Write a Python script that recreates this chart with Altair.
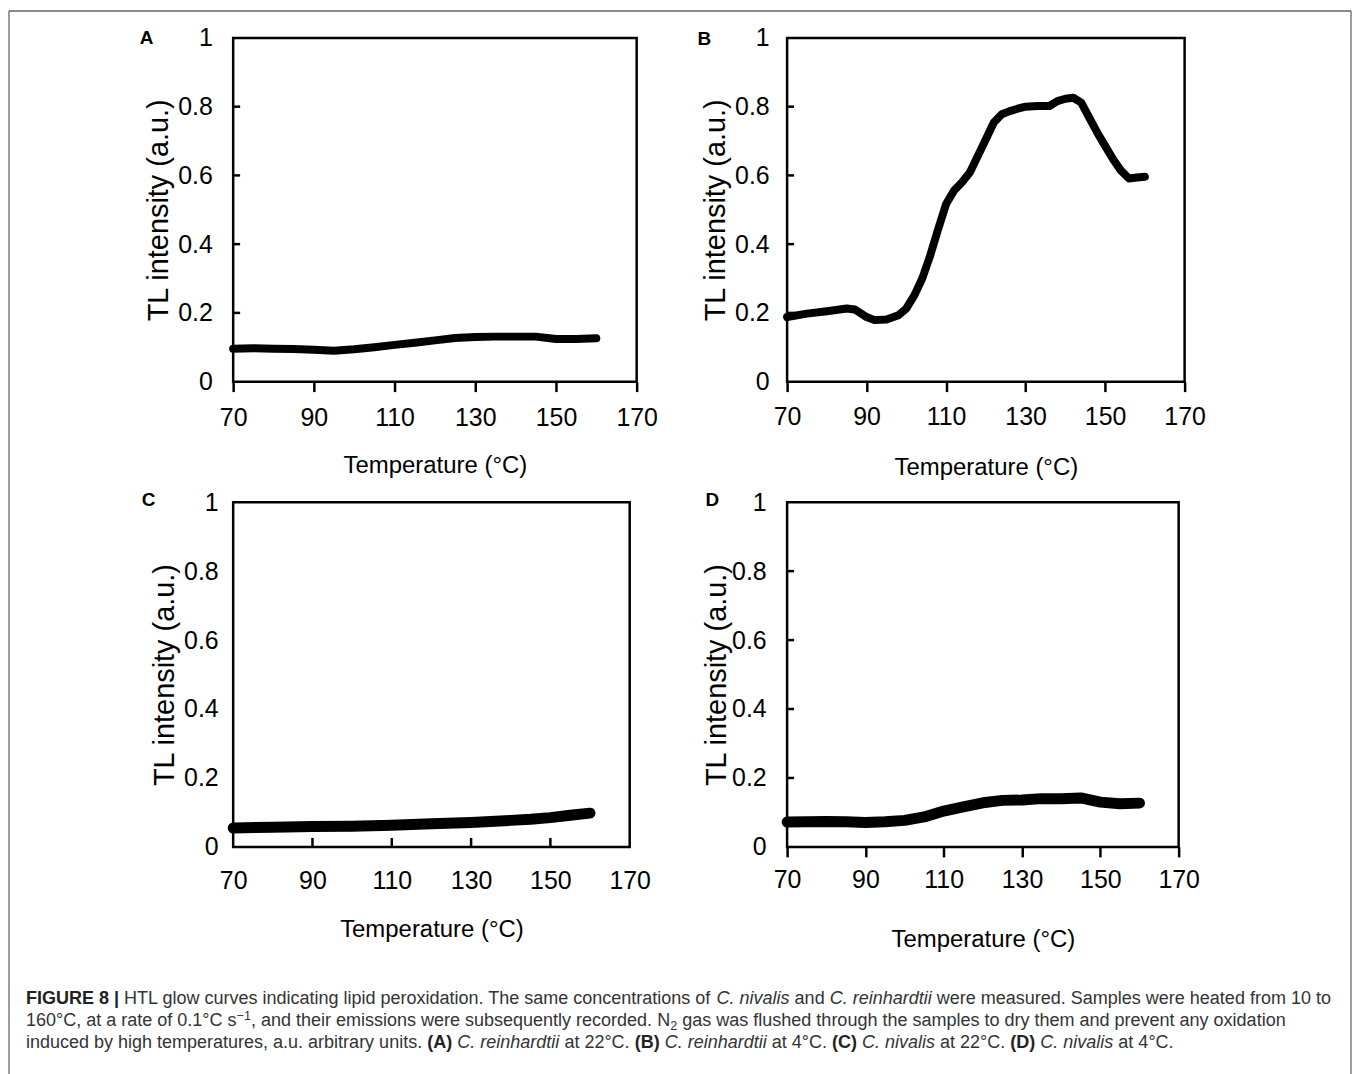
import altair as alt
import pandas as pd

# ---------------- data ----------------
temps_A = [70, 75, 80, 85, 90, 95, 100, 105, 110, 115, 120, 125, 130, 135, 140, 145, 150, 155, 160]
tl_A = [0.096, 0.097, 0.096, 0.095, 0.093, 0.090, 0.094, 0.100, 0.107, 0.113, 0.120, 0.127,
        0.130, 0.131, 0.131, 0.131, 0.124, 0.124, 0.126]

temps_B = [70, 75, 80, 85, 87, 90, 92, 95, 98, 100, 102, 104, 106, 108, 110, 112, 114, 116, 118,
           120, 122, 124, 126, 128, 130, 133, 136, 138, 140, 142, 144, 146, 148, 150, 152, 154,
           156, 158, 160]
tl_B = [0.188, 0.198, 0.205, 0.213, 0.210, 0.188, 0.179, 0.181, 0.193, 0.213, 0.251, 0.300,
        0.367, 0.444, 0.517, 0.556, 0.580, 0.609, 0.657, 0.705, 0.754, 0.778, 0.787, 0.794,
        0.800, 0.802, 0.802, 0.816, 0.823, 0.826, 0.812, 0.768, 0.725, 0.686, 0.647, 0.614,
        0.591, 0.594, 0.596]

temps_C = [70, 80, 90, 100, 110, 120, 130, 140, 145, 150, 155, 160]
tl_C = [0.055, 0.057, 0.059, 0.060, 0.063, 0.067, 0.071, 0.077, 0.080, 0.085, 0.092, 0.098]

temps_D = [70, 75, 80, 85, 90, 95, 100, 105, 110, 115, 120, 125, 130, 135, 140, 145, 150, 155, 160]
tl_D = [0.072, 0.073, 0.074, 0.073, 0.071, 0.073, 0.077, 0.087, 0.104, 0.116, 0.128, 0.135,
        0.136, 0.140, 0.140, 0.142, 0.130, 0.125, 0.127]

x_tick_values = [70, 90, 110, 130, 150, 170]
y_tick_values = [0, 0.2, 0.4, 0.6, 0.8, 1]
inner_y_ticks = [0.2, 0.4, 0.6, 0.8]
inner_x_ticks = [90, 110, 130, 150]
x_title = "Temperature (°C)"
y_title = "TL intensity (a.u.)"

caption_lines = [
    [("b", "FIGURE 8 |"),
     ("r", " HTL glow curves indicating lipid peroxidation. The same concentrations of "),
     ("i", "C. nivalis"), ("r", " and "), ("i", "C. reinhardtii"),
     ("r", " were measured. Samples were heated from 10 to")],
    [("r", "160°C, at a rate of 0.1°C s"), ("sup", "−1"),
     ("r", ", and their emissions were subsequently recorded. N"), ("sub", "2"),
     ("r", " gas was flushed through the samples to dry them and prevent any oxidation")],
    [("r", "induced by high temperatures, a.u. arbitrary units. "), ("b", "(A)"), ("r", " "),
     ("i", "C. reinhardtii"), ("r", " at 22°C. "), ("b", "(B)"), ("r", " "),
     ("i", "C. reinhardtii"), ("r", " at 4°C. "), ("b", "(C)"), ("r", " "),
     ("i", "C. nivalis"), ("r", " at 22°C. "), ("b", "(D)"), ("r", " "),
     ("i", "C. nivalis"), ("r", " at 4°C.")],
]

SANS = "Liberation Sans, Arial, sans-serif"
TICK_FS = 25
XTITLE_FS = 24
YTITLE_FS = 29

# ---------------- text metrics (Arial / Liberation Sans advance widths, 1/1000 em) -----
W_REG = {}
W_BOLD = {}


def _set(tbl, chars, w):
    for ch in chars:
        tbl[ch] = w


_set(W_REG, " !,./:;I[]ft", 278)
_set(W_REG, "ijl", 222)
_set(W_REG, "()-r", 333)
_set(W_REG, "ckszvxyJ", 500)
_set(W_REG, "0123456789abdeghnopquL", 556)
_set(W_REG, "+<=>−", 584)
_set(W_REG, "FTZ", 611)
_set(W_REG, "ABEKPSVXY", 667)
_set(W_REG, "CDHNRUw", 722)
_set(W_REG, "GOQ", 778)
_set(W_REG, "Mm", 833)
_set(W_REG, "W", 944)
_set(W_REG, "°", 400)
_set(W_REG, "|", 260)

_set(W_BOLD, " I", 278)
_set(W_BOLD, "|", 280)
_set(W_BOLD, "()", 333)
_set(W_BOLD, "0123456789", 556)
_set(W_BOLD, "F", 611)
_set(W_BOLD, "E", 667)
_set(W_BOLD, "ABCDRU", 722)
_set(W_BOLD, "G", 778)


def em_width(text, style):
    tbl = W_BOLD if style == "b" else W_REG
    scale = 0.7 if style in ("sup", "sub") else 1.0
    return sum(tbl.get(ch, 556) for ch in text) * scale / 1000.0


# caption geometry (relative to the caption cell)
CAP_X0 = -208
CAP_LINE1_WIDTH = 1310
CAP_BASELINES = [37, 59, 81]
cap_fs = CAP_LINE1_WIDTH / sum(em_width(t, s) for s, t in caption_lines[0])

rows = []
for li, line in enumerate(caption_lines):
    x = CAP_X0
    for style, txt in line:
        space_w = em_width(" ", "r") * cap_fs
        core = txt.strip(" ")
        if not core:
            x += len(txt) * space_w
            continue
        lead = len(txt) - len(txt.lstrip(" "))
        trail = len(txt) - len(txt.rstrip(" "))
        x += lead * space_w
        y = CAP_BASELINES[li]
        if style == "sup":
            y -= 0.36 * cap_fs
        elif style == "sub":
            y += 0.2 * cap_fs
        rows.append({"x": x, "y": y, "t": core, "s": style})
        x += em_width(core, style) * cap_fs + trail * space_w
cap_df = pd.DataFrame(rows)


# ---------------- panels ----------------
def panel(temps, vals, letter, w, h, sw, xt_in, yt_in, letter_xy,
          ylab_pad, ytitle_x, xlab_pad, xtitle_y):
    df = pd.DataFrame({"T": temps, "TL": vals})
    xscale = alt.Scale(domain=[70, 170], nice=False, zero=False)
    yscale = alt.Scale(domain=[0, 1], nice=False, zero=True)
    xaxis = alt.Axis(values=x_tick_values, title=x_title, grid=False, domain=False,
                     ticks=not xt_in, tickSize=10, tickWidth=2.5, tickColor="black",
                     labelFont=SANS, labelFontSize=TICK_FS, labelColor="black",
                     labelPadding=xlab_pad, labelFlush=False, labelOverlap=False,
                     titleFont=SANS, titleFontSize=XTITLE_FS, titleFontWeight="normal",
                     titleColor="black", titleX=w / 2, titleY=xtitle_y,
                     titleBaseline="middle", titleAlign="center")
    yaxis = alt.Axis(values=y_tick_values, format="~g", title=y_title, grid=False,
                     domain=False, ticks=False,
                     labelFont=SANS, labelFontSize=TICK_FS, labelColor="black",
                     labelPadding=ylab_pad, labelFlush=False, labelOverlap=False,
                     titleFont=SANS, titleFontSize=YTITLE_FS, titleFontWeight="normal",
                     titleColor="black", titleAngle=270, titleX=ytitle_x, titleY=h / 2,
                     titleBaseline="middle", titleAlign="center")
    layers = [
        alt.Chart(df).mark_line(color="black", strokeWidth=sw, strokeJoin="round",
                                strokeCap="round").encode(
            x=alt.X("T:Q", scale=xscale, axis=xaxis),
            y=alt.Y("TL:Q", scale=yscale, axis=yaxis))
    ]
    if yt_in:
        layers.append(
            alt.Chart(pd.DataFrame({"v": inner_y_ticks})).mark_rule(
                color="black", strokeWidth=2.5).encode(
                y=alt.Y("v:Q", scale=yscale, axis=yaxis),
                x=alt.value(0), x2=alt.value(7)))
    if xt_in:
        layers.append(
            alt.Chart(pd.DataFrame({"v": inner_x_ticks})).mark_rule(
                color="black", strokeWidth=2.5).encode(
                x=alt.X("v:Q", scale=xscale, axis=xaxis),
                y=alt.value(h), y2=alt.value(h - 9)))
    layers.append(
        alt.Chart(pd.DataFrame({"t": [letter]})).mark_text(
            font=SANS, fontSize=19, fontWeight="bold", color="black",
            align="center", baseline="middle").encode(
            text="t:N", x=alt.value(letter_xy[0]), y=alt.value(letter_xy[1])))
    return alt.layer(*layers).properties(
        width=w, height=h,
        view=alt.ViewBackground(stroke="black", strokeWidth=2.5))


pA = panel(temps_A, tl_A, "A", 405, 345, 8, False, True, (-87, 0), 21, -75, 14, 84)
pB = panel(temps_B, tl_B, "B", 399, 345, 8, False, True, (-83, 1), 18, -72, 13, 86)
pC = panel(temps_C, tl_C, "C", 398, 346, 11, True, False, (-85, -2), 15, -69, 22, 83)
pD = panel(temps_D, tl_D, "D", 393, 346, 11, False, True, (-75, -2), 21, -71, 11, 93)


# ---------------- caption + outer frame ----------------
def cap_layer(style, color, **kw):
    size = cap_fs * (0.7 if style in ("sup", "sub") else 1.0)
    return alt.Chart(cap_df).transform_filter(alt.datum.s == style).mark_text(
        align="left", baseline="alphabetic", font=SANS, fontSize=size, color=color,
        **kw).encode(
        x=alt.X("x:Q", scale=None, axis=None),
        y=alt.Y("y:Q", scale=None, axis=None),
        text="t:N")


frame_df = pd.DataFrame({"k": [0]})
frame_left = alt.Chart(frame_df).mark_rule(color="#666666", strokeWidth=1.3).encode(
    x=alt.value(-225), y=alt.value(-960), y2=alt.value(130))
frame_right = alt.Chart(frame_df).mark_rule(color="#666666", strokeWidth=1.3).encode(
    x=alt.value(1122), y=alt.value(-960), y2=alt.value(130))
frame_top = alt.Chart(frame_df).mark_rule(color="#666666", strokeWidth=1.3).encode(
    x=alt.value(-225), x2=alt.value(1122), y=alt.value(-960))

caption = alt.layer(
    cap_layer("r", "#333333"),
    cap_layer("i", "#333333", fontStyle="italic"),
    cap_layer("b", "#222222", fontWeight="bold"),
    cap_layer("sup", "#333333"),
    cap_layer("sub", "#333333"),
    frame_left, frame_right, frame_top,
).properties(width=400, height=100,
             view=alt.ViewBackground(strokeOpacity=0, strokeWidth=0))

chart = alt.concat(
    pA, pB, pC, pD, caption,
    columns=2, spacing={"row": 121, "column": 151}, bounds="flush",
).properties(padding=0).configure_view(strokeWidth=0)

chart.save("out.html", embed_options={"renderer": "svg", "actions": False})
